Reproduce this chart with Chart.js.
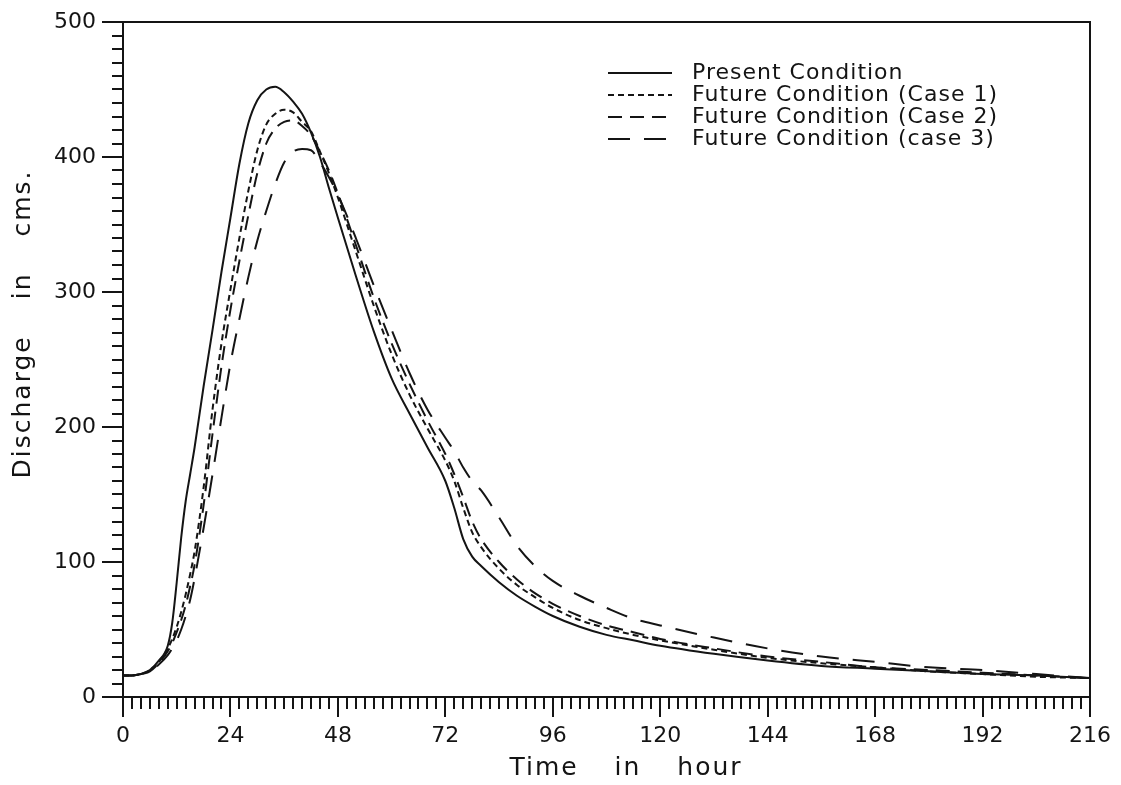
<!DOCTYPE html>
<html>
<head>
<meta charset="utf-8">
<title>Discharge hydrograph</title>
<script src="https://cdn.jsdelivr.net/npm/chart.js@4.4.1/dist/chart.umd.min.js"></script>
<style>
  html, body { margin: 0; padding: 0; background: #fff; }
  canvas { display: block; }
</style>
</head>
<body>
<canvas id="hydrograph" width="1121" height="785"></canvas>
<script>
// time axis (hours) shared by every series
const hours = [0, 2, 4, 6, 8, 10, 11, 12, 13, 14, 15, 16, 18, 20, 22, 24, 26, 28, 30, 32, 34, 36, 38, 40,
  42, 44, 46, 48, 52, 56, 60, 64, 68, 72, 74, 76, 78, 80, 84, 88, 92, 96, 102, 108, 114, 120,
  132, 144, 156, 168, 180, 192, 204, 216];

// discharge in cms
const present = [16, 16, 17, 20, 27, 38, 55, 85, 118, 145, 165, 185, 230, 272, 315, 355, 395, 425, 442, 450, 452, 448, 441, 432,
  418, 400, 377, 355, 312, 271, 236, 210, 185, 160, 140, 117, 104, 97, 85, 75, 67, 60, 52, 46, 42, 38,
  32, 27, 23, 21, 19, 17, 16, 14];
const case1 = [16, 16, 17, 20, 26, 36, 43, 52, 63, 76, 91, 108, 155, 213, 262, 302, 340, 375, 405, 424, 432, 435, 433, 426,
  419, 404, 388, 370, 330, 290, 254, 224, 199, 175, 160, 140, 122, 111, 95, 83, 74, 66, 57, 51, 46, 42,
  35, 29, 25, 22, 19, 17, 15, 14];
const case2 = [16, 16, 17, 19, 25, 34, 40, 48, 57, 68, 82, 98, 142, 195, 245, 287, 323, 357, 388, 410, 421, 426, 427, 423,
  416, 404, 390, 373, 335, 296, 262, 232, 205, 180, 165, 148, 130, 117, 100, 87, 77, 69, 60, 53, 48, 43,
  36, 30, 26, 22, 20, 18, 16, 14];
const case3 = [16, 16, 17, 19, 24, 31, 36, 42, 50, 60, 72, 88, 125, 165, 207, 247, 280, 311, 338, 360, 380, 396, 404, 406,
  405, 396, 385, 372, 340, 305, 272, 240, 213, 192, 182, 170, 160, 153, 133, 112, 97, 86, 75, 66, 58, 53,
  44, 36, 30, 26, 22, 20, 17, 14];

const seriesNames = ['Present Condition', 'Future Condition (Case 1)', 'Future Condition (Case 2)', 'Future Condition (case 3)'];
const seriesValues = [present, case1, case2, case3];
const seriesDashes = [[], [6, 4], [14, 8], [22, 14]];

const FONT = '"DejaVu Sans", sans-serif';
const INK = '#141414';

// minor / major tick spacing
const hourMinor = 2, hourMajor = 24;
const flowMinor = 10, flowMajor = 100;

const plotterFrame = {
  id: 'plotterFrame',
  afterDatasetsDraw(chart) {
    const { ctx, chartArea: a, scales: { x, y } } = chart;
    ctx.save();
    ctx.strokeStyle = INK;
    ctx.lineWidth = 2;
    ctx.setLineDash([]);
    ctx.strokeRect(a.left, a.top, a.right - a.left, a.bottom - a.top);

    // tick marks outside the frame
    ctx.beginPath();
    for (let t = x.min; t <= x.max; t += hourMinor) {
      const px = Math.round(x.getPixelForValue(t));
      ctx.moveTo(px, a.bottom);
      ctx.lineTo(px, a.bottom + (t % hourMajor === 0 ? 20 : 12));
    }
    for (let v = y.min; v <= y.max; v += flowMinor) {
      const py = Math.round(y.getPixelForValue(v));
      ctx.moveTo(a.left, py);
      ctx.lineTo(a.left - (v % flowMajor === 0 ? 21 : 11), py);
    }
    ctx.stroke();

    // legend
    ctx.font = '22px ' + FONT;
    ctx.fillStyle = INK;
    ctx.textBaseline = 'middle';
    ctx.letterSpacing = '1px';
    chart.data.datasets.forEach((ds, i) => {
      const ly = 73 + i * 22;
      ctx.beginPath();
      ctx.setLineDash(ds.borderDash);
      ctx.moveTo(608, ly);
      ctx.lineTo(672, ly);
      ctx.stroke();
      ctx.fillText(ds.label, 692, ly);
    });

    // axis titles
    ctx.setLineDash([]);
    ctx.font = '25px ' + FONT;
    ctx.textAlign = 'center';
    ctx.letterSpacing = '2px';
    ctx.wordSpacing = '26px';
    ctx.fillText('Time in hour', 626, 768);
    ctx.translate(23, 324);
    ctx.rotate(-Math.PI / 2);
    ctx.fillText('Discharge in cms.', 0, 0);
    ctx.restore();
  }
};

new Chart(document.getElementById('hydrograph'), {
  type: 'line',
  data: {
    datasets: seriesNames.map((name, i) => ({
      label: name,
      data: hours.map((h, k) => ({ x: h, y: seriesValues[i][k] })),
      borderColor: INK,
      borderWidth: 2,
      borderDash: seriesDashes[i],
      pointRadius: 0,
      fill: false,
      cubicInterpolationMode: 'monotone'
    }))
  },
  options: {
    responsive: false,
    animation: false,
    devicePixelRatio: 1,
    layout: { padding: { top: 22, right: 31, left: 0, bottom: 0 } },
    plugins: { legend: { display: false }, tooltip: { enabled: false } },
    scales: {
      x: {
        type: 'linear',
        min: 0,
        max: 216,
        afterFit: s => { s.height = 88; s.paddingLeft = 0; s.paddingRight = 0; },
        grid: { display: false, drawTicks: false },
        border: { display: false },
        ticks: { stepSize: hourMajor, padding: 26, color: INK, maxRotation: 0, autoSkip: false, font: { family: FONT, size: 22 } }
      },
      y: {
        min: 0,
        max: 500,
        afterFit: s => { s.width = 123; s.paddingTop = 0; s.paddingBottom = 0; },
        grid: { display: false, drawTicks: false },
        border: { display: false },
        ticks: { stepSize: flowMajor, padding: 27, color: INK, font: { family: FONT, size: 22 } }
      }
    }
  },
  plugins: [plotterFrame]
});
</script>
</body>
</html>
